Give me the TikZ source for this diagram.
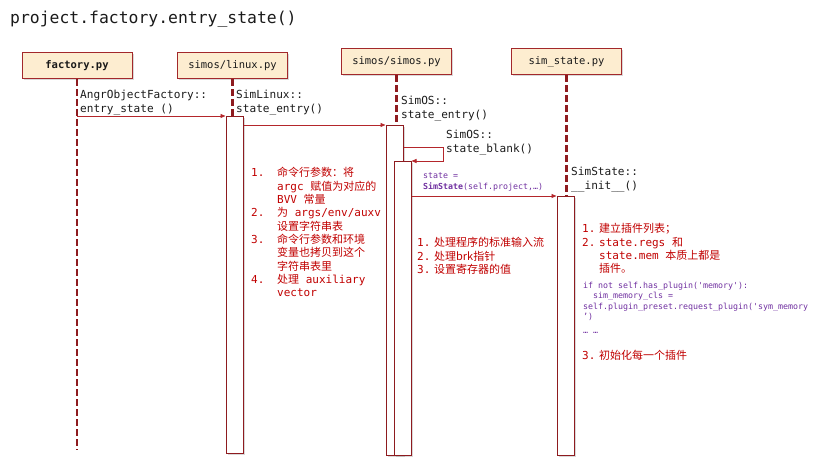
\documentclass[tikz,border=0pt]{standalone}
\usepackage{fontspec}
\setmonofont{DejaVu Sans Mono}
\newfontfamily\zhfont{Noto Sans CJK SC}
\newcommand{\zhtxt}[1]{{\zhfont #1}}
\usetikzlibrary{arrows.meta,positioning,shadows}
\definecolor{ink}{HTML}{1A1A1A}
\definecolor{boxline}{HTML}{A3282B}
\definecolor{boxfill}{HTML}{FDEDD0}
\definecolor{lifecol}{HTML}{8E1B1F}
\definecolor{msgcol}{HTML}{B4262B}
\definecolor{notecol}{HTML}{C00000}
\definecolor{codecol}{HTML}{7030A0}

\begin{document}
\begin{tikzpicture}[x=1pt, y=-1pt,
  font=\ttfamily\fontsize{11.1}{14}\selectfont, >={Triangle[length=5pt,width=4pt]},
  hdr/.style={draw=boxline, fill=boxfill, line width=1pt, minimum width=110pt,
    minimum height=26pt, inner sep=0pt, text=ink,
    drop shadow={shadow xshift=1.5pt, shadow yshift=-1.5pt, opacity=0.3},
    font=\ttfamily\fontsize{10.5}{12}\selectfont},
  act/.style={draw=lifecol, fill=white, line width=1pt, minimum width=17pt,
    anchor=north, inner sep=0pt,
    drop shadow={shadow xshift=1.5pt, shadow yshift=-1.5pt, opacity=0.3}},
  life/.style={lifecol, line width=2.2pt, dash pattern=on 7pt off 3pt},
  msg/.style={msgcol, line width=0.9pt, ->},
  lbl/.style={anchor=north west, inner sep=0pt, align=left, text=ink},
  note/.style={anchor=base west, inner sep=0pt, text=notecol,
    font=\ttfamily\fontsize{11}{13.3}\selectfont},
  code/.style={anchor=base west, inner sep=0pt, text=codecol,
    font=\ttfamily\fontsize{8.3}{10.6}\selectfont}]

\useasboundingbox (0,0) rectangle (819,462);

\node[anchor=north west, inner sep=0pt, text=ink,
  font=\ttfamily\fontsize{16.4}{20}\selectfont] (ttl) at (10,10.5)
  {project.factory.entry\_state()};

% ================================================================ heads
\node[hdr, font=\ttfamily\bfseries\fontsize{10.5}{12}\selectfont] (fac) at (77,65.5) {factory.py};
\node[hdr] (lin) at (232.5,66) {simos/linux.py};
\node[hdr] (sim) at (396.5,62) {simos/simos.py};
\node[hdr] (sst) at (566.5,62) {sim\_state.py};

% ================================================================ activations
\node[act, minimum height=337pt] (linact) at (234.5,116) {};
\node[act, minimum height=330pt] (simact) at (394.5,125) {};
\node[act, minimum height=294pt] (simact2) at (402.5,161) {};
\node[act, minimum height=259pt] (sstact) at (565.5,196) {};

% lifelines
\coordinate (facend) at (77,450);
\draw[life] (fac.south) -- (facend);
\draw[life] (lin.south) -- (lin.south |- linact.north);
\draw[life] (sim.south) -- (sim.south |- simact.north);
\draw[life] (sst.south) -- (sst.south |- sstact.north);

% ================================================================ messages
\draw[msg] (fac.south |- linact.north west) -- (linact.north west);
\draw[msg] (linact.east |- simact.north west) -- (simact.north west);
\draw[msg] ([yshift=-22pt]simact.north east) -- ++(40pt,0) |- (simact2.north east);
\draw[msg] (simact2.east |- sstact.north west) -- (sstact.north west);

\node[lbl] (m1lbl) at (80,89.5) {AngrObjectFactory::\\entry\_state ()};
\node[lbl] (m2lbl) at (236,89.5) {SimLinux::\\state\_entry()};
\node[lbl] (m3lbl) at (401,96) {SimOS::\\state\_entry()};
\node[lbl] (m4lbl) at (446,130) {SimOS::\\state\_blank()};
\node[lbl] (m5lbl) at (571,167) {SimState::\\\_\_init\_\_()};
\node[lbl, text=codecol, font=\ttfamily\fontsize{8.3}{11}\selectfont] (m6lbl) at (423,172)
  {state =\\\textbf{SimState}(self.project,…)};

% ================================================================ notes
\node[note] (linnote) at (251,177) {\begin{tabular}[t]{@{}l@{\hspace{12.8pt}}l@{}}
1. & \zhtxt{命令行参数：将}\\
   & argc \zhtxt{赋值为对应的}\\
   & BVV \zhtxt{常量}\\
2. & \zhtxt{为} args/env/auxv\\
   & \zhtxt{设置字符串表}\\
3. & \zhtxt{命令行参数和环境}\\
   & \zhtxt{变量也拷贝到这个}\\
   & \zhtxt{字符串表里}\\
4. & \zhtxt{处理} auxiliary\\
   & vector
\end{tabular}};

\node[note] (simnote) at (417,247) {\begin{tabular}[t]{@{}l@{\hspace{3.7pt}}l@{}}
1. & \zhtxt{处理程序的标准输入流}\\
2. & \zhtxt{处理brk指针}\\
3. & \zhtxt{设置寄存器的值}
\end{tabular}};

\node[note] (sstnote) at (582,233) {\begin{tabular}[t]{@{}l@{\hspace{3.7pt}}l@{}}
1. & \zhtxt{建立插件列表；}\\
2. & state.regs \zhtxt{和}\\
   & state.mem \zhtxt{本质上都是}\\
   & \zhtxt{插件。}
\end{tabular}};

\node[code] (sstcode) at (583,288) {\begin{tabular}[t]{@{}l@{}}
if not self.has\_plugin('memory'):\\
\phantom{xx}sim\_memory\_cls =\\
self.plugin\_preset.request\_plugin('sym\_memory\\
’)\\[3pt]
… …
\end{tabular}};

\node[note] (sstnote3) at (582,359) {\begin{tabular}[t]{@{}l@{\hspace{3.7pt}}l@{}}
3. & \zhtxt{初始化每一个插件}
\end{tabular}};

\end{tikzpicture}
\end{document}
